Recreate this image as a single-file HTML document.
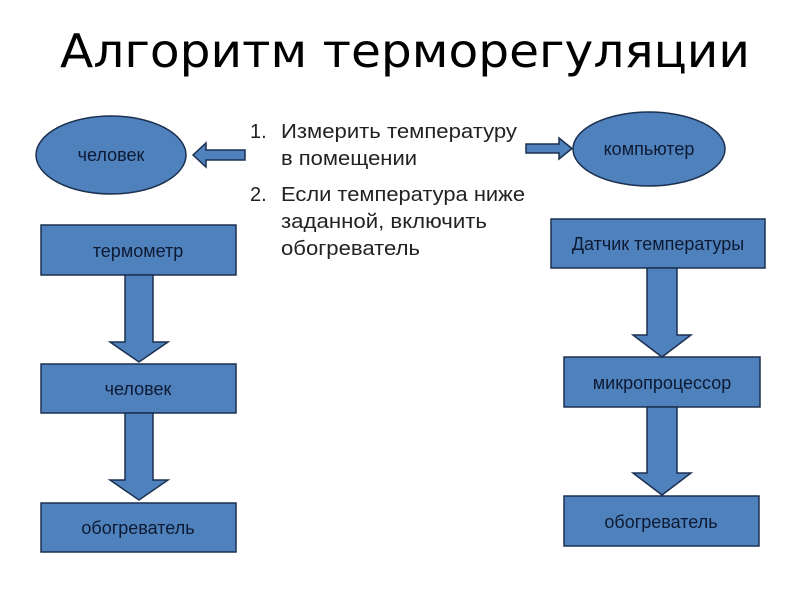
<!DOCTYPE html>
<html><head><meta charset="utf-8"><style>
html,body{margin:0;padding:0;background:#fff;width:800px;height:600px;overflow:hidden}
svg{display:block}
</style></head><body>
<svg width="800" height="600" viewBox="0 0 800 600" xmlns="http://www.w3.org/2000/svg">
<g fill="#4f81bd" stroke="#1c3050" stroke-width="1.5">
  <ellipse cx="111" cy="155" rx="75" ry="39"/>
  <ellipse cx="649" cy="149" rx="76" ry="37"/>
  <polygon points="245,150 206,150 206,143 193,155 206,167 206,160 245,160"/>
  <polygon points="526,144 559,144 559,138 572,148.5 559,159 559,153 526,153"/>
  <rect x="41" y="225" width="195" height="50"/>
  <rect x="41" y="364" width="195" height="49"/>
  <rect x="41" y="503" width="195" height="49"/>
  <polygon points="125,275 153,275 153,342 168,342 139,362 110,342 125,342"/>
  <polygon points="125,413 153,413 153,480 168,480 139,500 110,480 125,480"/>
  <rect x="551" y="219" width="214" height="49"/>
  <rect x="564" y="357" width="196" height="50"/>
  <rect x="564" y="496" width="195" height="50"/>
  <polygon points="647,268 677,268 677,335 691,335 662,357 633,335 647,335"/>
  <polygon points="647,407 677,407 677,473 691,473 662,495 633,473 647,473"/>
</g>
<g font-family="'Liberation Sans','DejaVu Sans',sans-serif" fill="#0d1a33" font-size="18" text-anchor="middle">
  <text x="111" y="161">человек</text>
  <text x="649" y="155">компьютер</text>
  <text x="138" y="257">термометр</text>
  <text x="138" y="395">человек</text>
  <text x="138" y="534">обогреватель</text>
  <text x="658" y="250">Датчик температуры</text>
  <text x="662" y="389">микропроцессор</text>
  <text x="661" y="528">обогреватель</text>
</g>
<text x="60" y="67" font-family="'DejaVu Sans',sans-serif" font-size="46" textLength="690" lengthAdjust="spacingAndGlyphs" fill="#000">Алгоритм терморегуляции</text>
<g font-family="'Liberation Sans',sans-serif" font-size="20" fill="#222" lengthAdjust="spacingAndGlyphs">
  <text x="250" y="138">1.</text>
  <text x="281" y="138" textLength="236" lengthAdjust="spacingAndGlyphs">Измерить температуру</text>
  <text x="281" y="165" textLength="136" lengthAdjust="spacingAndGlyphs">в помещении</text>
  <text x="250" y="201">2.</text>
  <text x="281" y="201" textLength="244" lengthAdjust="spacingAndGlyphs">Если температура ниже</text>
  <text x="281" y="228" textLength="206" lengthAdjust="spacingAndGlyphs">заданной, включить</text>
  <text x="281" y="255" textLength="139" lengthAdjust="spacingAndGlyphs">обогреватель</text>
</g>
</svg>
</body></html>
